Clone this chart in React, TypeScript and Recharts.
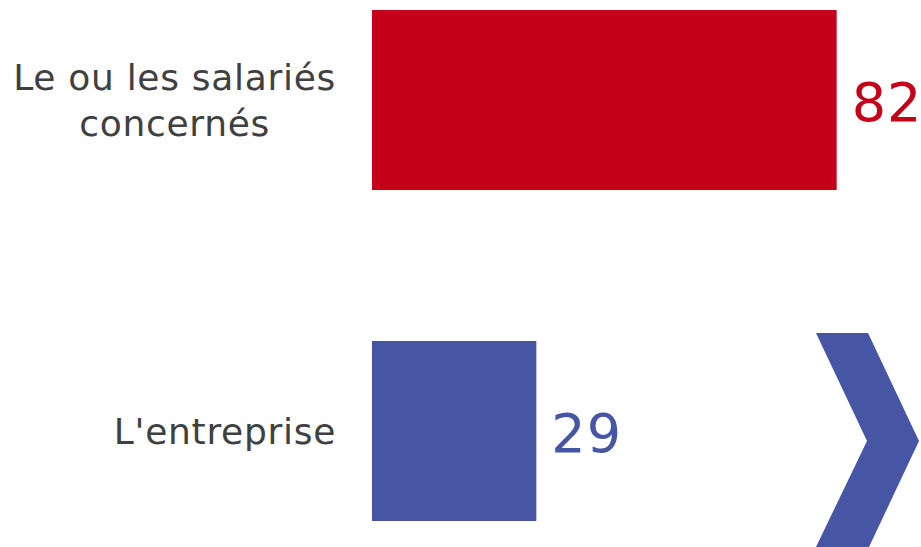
import { Bar, BarChart, Cell, LabelList, XAxis, YAxis } from "recharts";

const categories = ["Le ou les salariés concernés", "L'entreprise"];
const categoryLines = [["Le ou les salariés", "concernés"], ["L'entreprise"]];
const values = [82, 29];
const colors = ["#C50019", "#4755A5"];

const data = categories.map((name, i) => ({ name, value: values[i] }));

const FONT = "'DejaVu Sans', Verdana, sans-serif";
const TICK_SIZE = 36;
const TICK_SPACING = 0.7;

function textWidth(s: string, size: number, spacing: number) {
  const ctx = document.createElement("canvas").getContext("2d");
  if (!ctx) return s.length * size * 0.55;
  ctx.font = `${size}px ${FONT}`;
  return ctx.measureText(s).width + spacing * s.length;
}

function CategoryTick({ x, y, index }: any) {
  const lines = categoryLines[index] ?? [];
  const w = Math.max(...lines.map((l) => textWidth(l, TICK_SIZE, TICK_SPACING)));
  const cx = x - w / 2;
  const lh = 46;
  const top = y - ((lines.length - 1) * lh) / 2;
  return (
    <text
      textAnchor="middle"
      fontFamily={FONT}
      fontSize={TICK_SIZE}
      letterSpacing={TICK_SPACING}
      fill="#404040"
      dominantBaseline="central"
    >
      {lines.map((l, i) => (
        <tspan key={i} x={cx} y={top + i * lh}>
          {l}
        </tspan>
      ))}
    </text>
  );
}

function ValueLabel({ x, y, width, height, value, index }: any) {
  return (
    <text
      x={x + width + 15}
      y={y + height / 2 + 2}
      fontFamily={FONT}
      fontSize={54}
      letterSpacing={1}
      fill={colors[index]}
      dominantBaseline="central"
    >
      {value}
    </text>
  );
}

export default function App() {
  return (
    <div
      style={{
        position: "absolute",
        left: 0,
        top: 0,
        width: 921,
        height: 547,
        overflow: "hidden",
        background: "#fff",
      }}
    >
      <div style={{ position: "absolute", left: 0, top: -66 }}>
        <BarChart
          width={921}
          height={662}
          data={data}
          layout="vertical"
          barSize={180}
          margin={{ top: 0, right: 39, bottom: 0, left: 0 }}
        >
          <XAxis type="number" domain={[0, 90]} hide />
          <YAxis
            type="category"
            dataKey="name"
            width={372}
            axisLine={false}
            tickLine={false}
            tickMargin={30}
            tick={<CategoryTick />}
          />
          <Bar dataKey="value" isAnimationActive={false}>
            {data.map((d, i) => (
              <Cell key={d.name} fill={colors[i]} />
            ))}
            <LabelList dataKey="value" content={<ValueLabel />} />
          </Bar>
        </BarChart>
      </div>
      <svg
        width={921}
        height={547}
        style={{ position: "absolute", left: 0, top: 0, pointerEvents: "none" }}
      >
        <polygon
          points="816,333 868,333 919,441 869,547 816,547 867,441"
          fill="#4755A5"
        />
      </svg>
    </div>
  );
}
